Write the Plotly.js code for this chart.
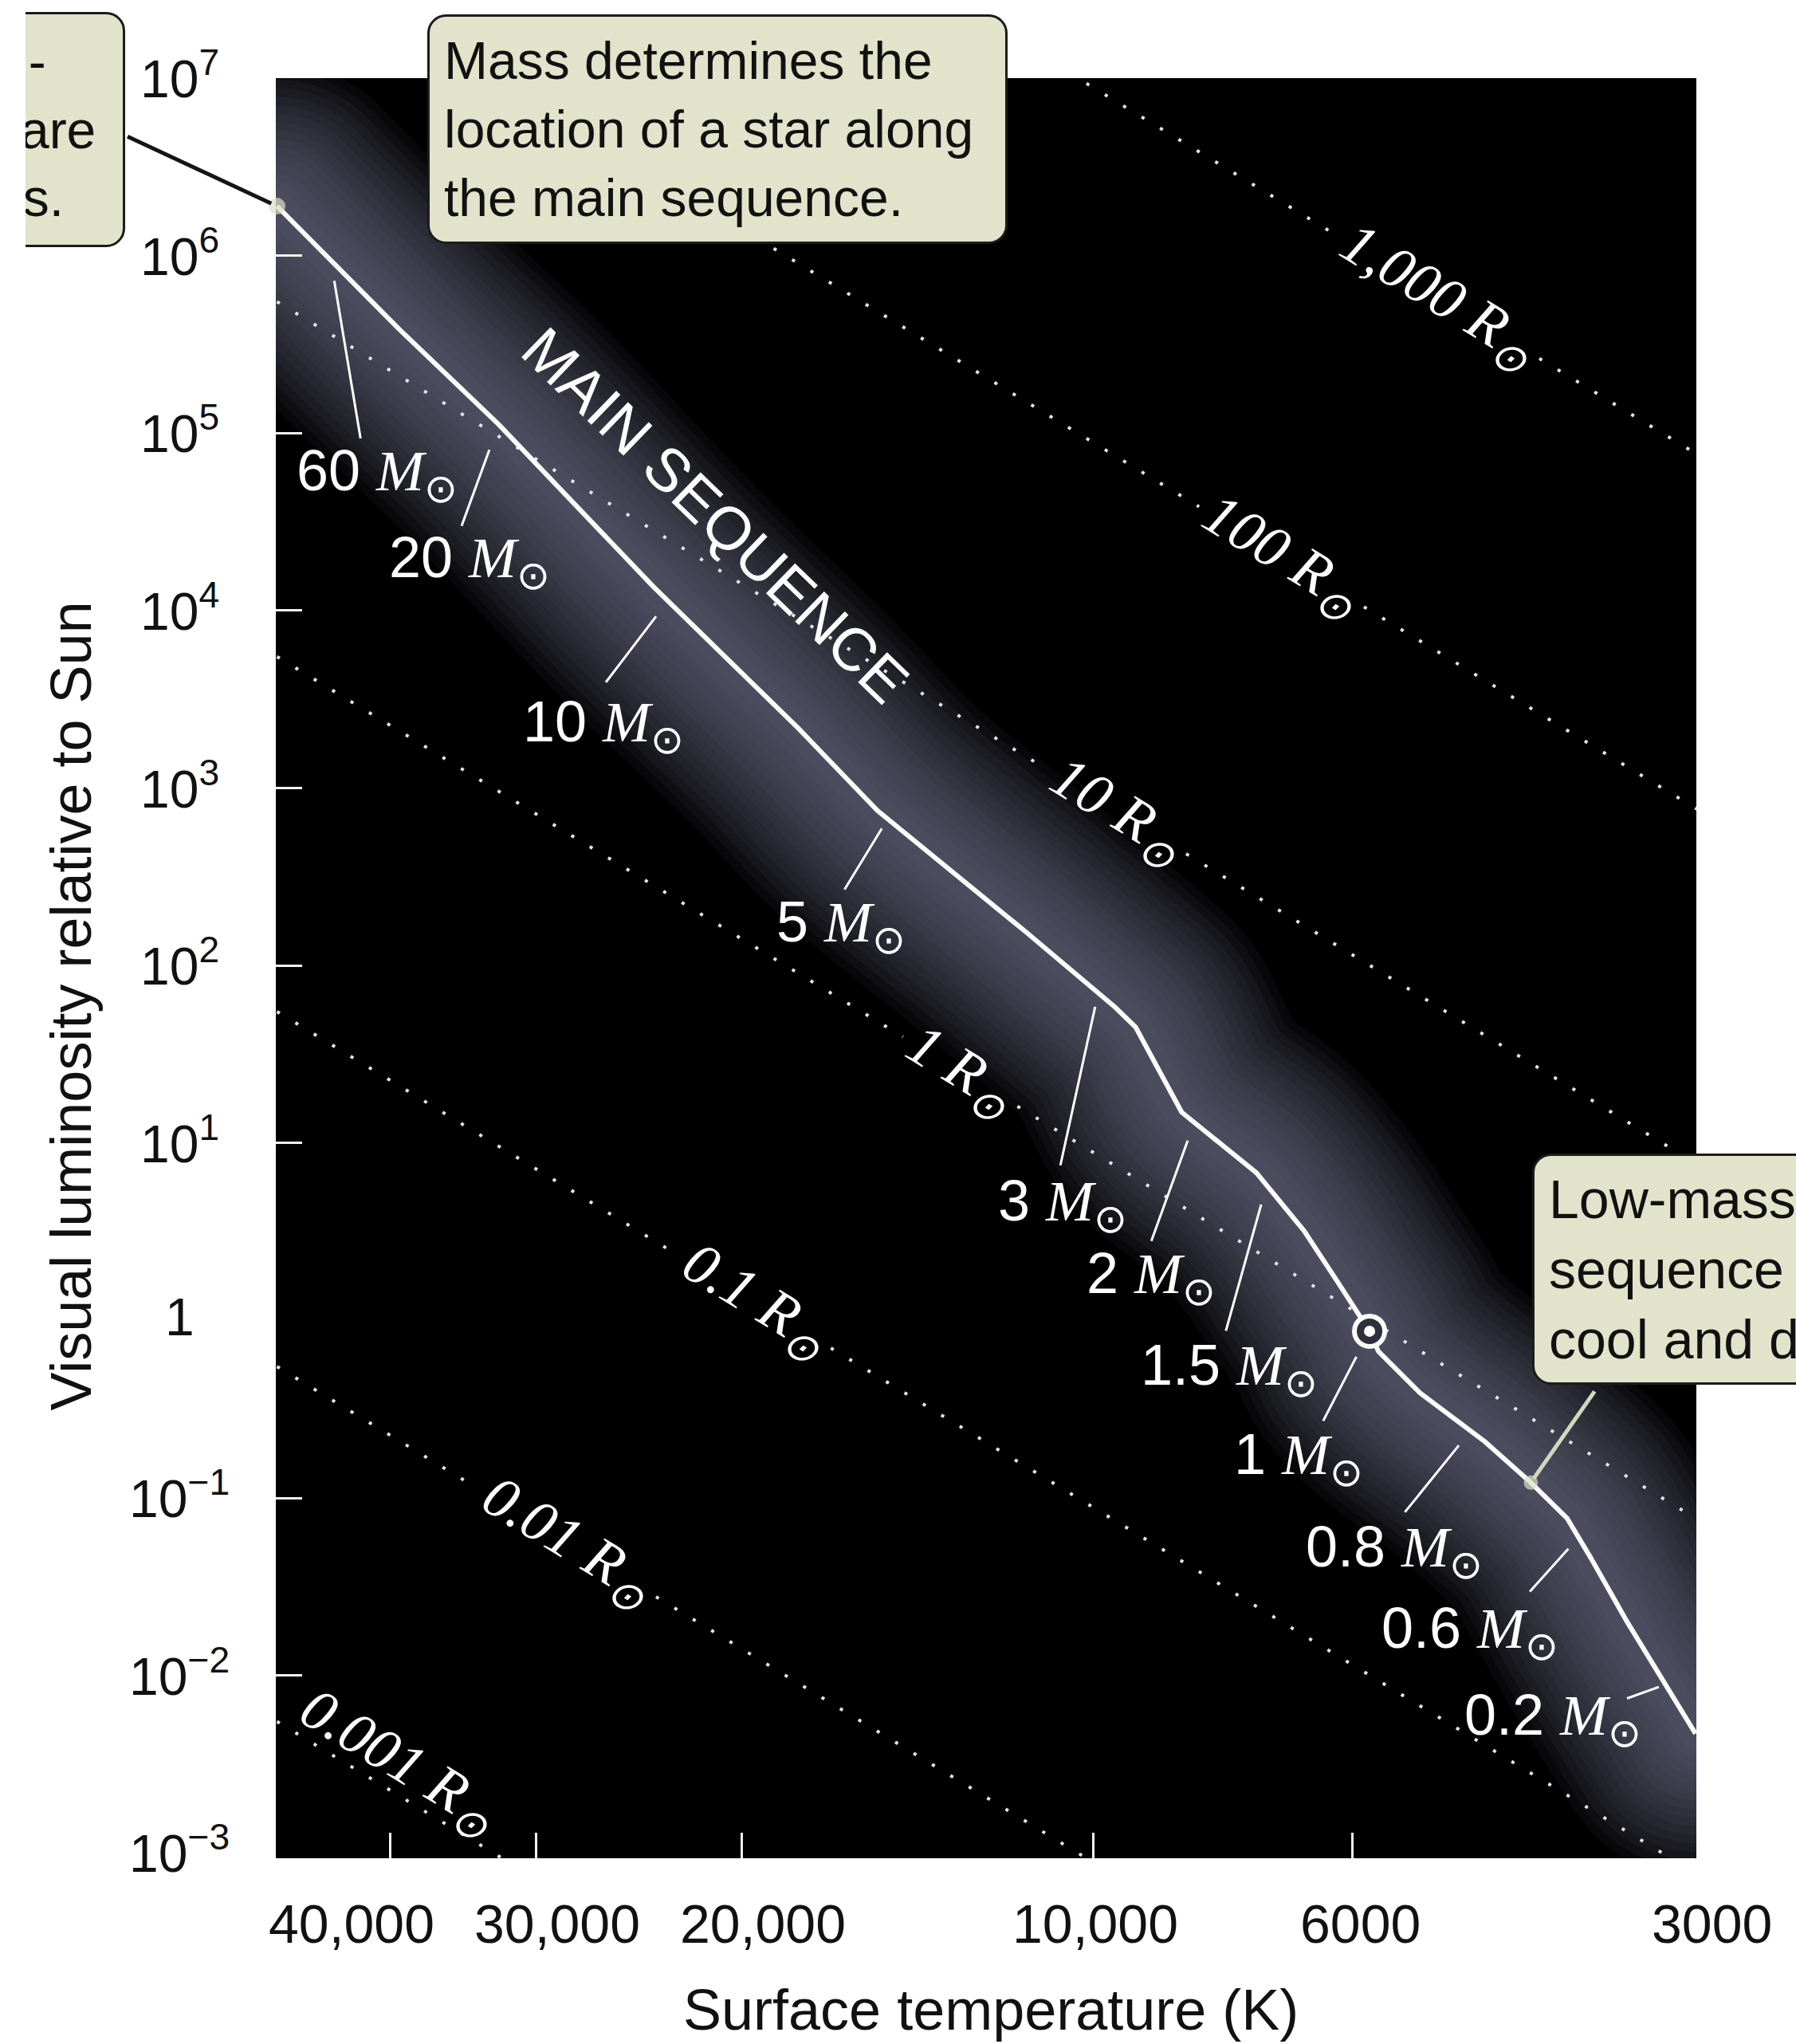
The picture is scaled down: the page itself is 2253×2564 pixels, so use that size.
<!DOCTYPE html>
<html>
<head>
<meta charset="utf-8">
<script src="https://cdn.plot.ly/plotly-3.0.1.min.js"></script>
<style>
  html, body { margin: 0; padding: 0; background: #ffffff; }
  #chart { position: absolute; left: 32px; top: 0; width: 2221px; height: 2564px; }
  #chart .scatterlayer path.js-line { stroke-linejoin: round; }
  #chart .scatterlayer .trace:nth-child(-n+16) path.js-line { stroke-linecap: round; }
  #chart .annotation rect.bg { rx: 22px; ry: 22px; }
</style>
</head>
<body>
<div id="chart"></div>
<script>
// ---------------- DATA ----------------
// Main sequence curve: surface temperature (K) and visual luminosity (L_sun)
const msTemp = [50000, 39300, 32300, 23800, 17900, 15300, 11400, 9600, 9200, 8400, 7250,
                6600, 6170, 5800, 5700, 5250, 4630, 4220, 3930, 3750, 3490, 3050];
const msLum  = [1.9e6, 3.85e5, 1.12e5, 1.36e4, 2180, 745, 153, 59, 45, 14.9, 6.8,
                3.2, 1.63, 0.87, 0.67, 0.39, 0.21, 0.122, 0.077, 0.046, 0.020, 0.0047];

// Stellar masses marked along the main sequence
const massLabel = ['60', '20', '10', '5', '3', '2', '1.5', '1', '0.8', '0.6', '0.2'];
const massTemp  = [45000, 32300, 23100, 15000, 9900, 8200, 7100, 5800, 4750, 3850, 3250];
const massLum   = [9.7e5, 1.12e5, 1.15e4, 670, 71, 12.9, 5.9, 0.87, 0.24, 0.059, 0.0088];

// The Sun
const sunTemp = [5800];
const sunLum  = [0.87];

// Lines of constant radius (dotted): luminosity at 50,000 K and at 3,000 K
const radiusText    = ['0.001', '0.01', '0.1', '1', '10', '100', '1,000'];
const radiusEndTemp = [50000, 3000];
const radiusLumHot  = [0.0055, 0.55, 55, 5500, 5.5e5, 5.5e7, 5.5e9];
const radiusLumCool = [7.2e-8, 7.2e-6, 7.2e-4, 0.072, 7.2, 720, 7.2e4];
const radiusLabelTemp = [39400, 28200, 19500, 13000, 9550, 6900, 5070];

// Axis ticks
const xTickTemp = [40000, 30000, 20000, 10000, 6000, 3000];
const xTickText = ['40,000', '30,000', '20,000', '10,000', '6000', '3000'];
const yTickVals = [1e7, 1e6, 1e5, 1e4, 1e3, 1e2, 1e1, 1, 1e-1, 1e-2, 1e-3];
const yTickText = ['10<sup>7</sup>', '10<sup>6</sup>', '10<sup>5</sup>', '10<sup>4</sup>',
                   '10<sup>3</sup>', '10<sup>2</sup>', '10<sup>1</sup>', '1',
                   '10<sup>\u22121</sup>', '10<sup>\u22122</sup>', '10<sup>\u22123</sup>'];

const calloutTop  = 'Mass determines the<br>location of a star along<br>the main sequence.';
const calloutHigh = 'High-mass main-<br>sequence stars are<br>hot and luminous.';
const calloutLow  = 'Low-mass main-<br>sequence stars are<br>cool and dim.';

// ---------------- LAYOUT / STYLE ----------------
const X_RANGE = [4.700, 3.4836];   // log10(K), hot on the left
const Y_RANGE = [-3.03, 7.0];      // log10(L)
const PLOT_W = 1782, PLOT_H = 2233;
const SANS = 'Liberation Sans, Arial, Helvetica, sans-serif';
const SERIF = 'Liberation Serif, Times New Roman, serif';
const L10 = Math.log10;
const pxPerDecX = PLOT_W / (X_RANGE[0] - X_RANGE[1]);
const pxPerDecY = PLOT_H / (Y_RANGE[1] - Y_RANGE[0]);

const traces = [];

// soft glow along the main sequence (many stacked translucent strokes)
const GLOW_LAYERS = 16;
for (let k = GLOW_LAYERS - 1; k >= 0; k--) {
  const w = 40 + 320 * k / (GLOW_LAYERS - 1);
  traces.push({
    x: msTemp, y: msLum, mode: 'lines', hoverinfo: 'skip',
    line: { color: 'rgba(120,120,154,0.066)', width: w, shape: 'spline', smoothing: 1 }
  });
}

// constant-radius dotted lines, interrupted where their labels sit
const radiusGapPx = [0, 130, 112, 84, 102, 121, 149];   // half-length of the label gap (px)
const radiusLabelInfo = [];
radiusText.forEach((t, i) => {
  const x0 = L10(radiusEndTemp[0]), x1 = L10(radiusEndTemp[1]);
  const y0 = L10(radiusLumHot[i]), y1 = L10(radiusLumCool[i]);
  const lumAt = u => y0 + (u - x0) / (x1 - x0) * (y1 - y0);
  const lx = L10(radiusLabelTemp[i]);
  const angRad = Math.atan2((y0 - y1) * pxPerDecY, (x0 - x1) * pxPerDecX);
  radiusLabelInfo.push({ lx: lx, ly: lumAt(lx), ang: angRad * 180 / Math.PI });
  let xs, ys;
  if (radiusGapPx[i] > 0) {
    const du = radiusGapPx[i] * Math.cos(angRad) / pxPerDecX;
    const ua = lx + du, ub = lx - du;
    xs = [radiusEndTemp[0], Math.pow(10, ua), null, Math.pow(10, ub), radiusEndTemp[1]];
    ys = [radiusLumHot[i], Math.pow(10, lumAt(ua)), null, Math.pow(10, lumAt(ub)), radiusLumCool[i]];
  } else {
    xs = radiusEndTemp;
    ys = [radiusLumHot[i], radiusLumCool[i]];
  }
  traces.push({
    x: xs, y: ys, mode: 'lines', hoverinfo: 'skip', connectgaps: false,
    line: { color: '#e6e6e6', width: 4, dash: '4px,23px' }
  });
});

// main-sequence line
traces.push({
  x: msTemp, y: msLum, mode: 'lines', hoverinfo: 'skip',
  line: { color: '#fbfbfb', width: 6 }
});

// the Sun symbol
traces.push({
  x: sunTemp, y: sunLum, mode: 'markers', hoverinfo: 'skip',
  marker: { symbol: 'circle', size: 38, color: '#2f2f3d', line: { color: '#ffffff', width: 6 } }
});
traces.push({
  x: sunTemp, y: sunLum, mode: 'markers', hoverinfo: 'skip',
  marker: { symbol: 'circle', size: 14, color: '#ffffff', line: { width: 0 } }
});

// callout anchor dots on the main sequence
const lowIdx = 17;
traces.push({
  x: [msTemp[0], msTemp[lowIdx]], y: [msLum[0], msLum[lowIdx]], mode: 'markers',
  hoverinfo: 'skip', cliponaxis: false,
  marker: { size: [21, 18], color: '#dde0c8', line: { width: 0 } }
});

const annotations = [];

// y tick labels (centred, like the reference)
yTickVals.forEach((v, i) => annotations.push({
  xref: 'paper', yref: 'y', x: 0, y: L10(v), xshift: -121, yshift: 4,
  xanchor: 'center', yanchor: 'middle', showarrow: false,
  text: yTickText[i], font: { family: SANS, size: 66, color: '#111' }
}));

// x tick labels
const xLabelNudge = [-48, 26, 27, 3, 10, 10];
xTickTemp.forEach((t, i) => annotations.push({
  xref: 'paper', yref: 'paper',
  x: (X_RANGE[0] - L10(t)) / (X_RANGE[0] - X_RANGE[1]), y: 0,
  xshift: xLabelNudge[i], yshift: -82, xanchor: 'center', yanchor: 'middle', showarrow: false,
  text: xTickText[i], font: { family: SANS, size: 68, color: '#111' }
}));

// axis titles
annotations.push({
  xref: 'paper', yref: 'paper', x: 0, y: 0.5, xshift: -258, yshift: -48,
  xanchor: 'center', yanchor: 'middle', textangle: -90, showarrow: false,
  text: 'Visual luminosity relative to Sun', font: { family: SANS, size: 72, color: '#111' }
});
annotations.push({
  xref: 'paper', yref: 'paper', x: 0.5, y: 0, xshift: 6, yshift: -190,
  xanchor: 'center', yanchor: 'middle', showarrow: false,
  text: 'Surface temperature (K)', font: { family: SANS, size: 72, color: '#111' }
});

// radius line labels
radiusText.forEach((txt, i) => {
  const info = radiusLabelInfo[i];
  annotations.push({
    xref: 'x', yref: 'y', x: info.lx, y: info.ly, yshift: i === 0 ? 40 : 0,
    xanchor: 'center', yanchor: 'middle', textangle: info.ang, showarrow: false,
    text: txt + ' <i>R</i><sub>\u2299</sub>',
    font: { family: SERIF, size: 74, color: '#ffffff', style: 'italic' }
  });
});

// MAIN SEQUENCE label
annotations.push({
  xref: 'paper', yref: 'paper', x: 0, y: 1, xshift: 552, yshift: -548,
  xanchor: 'center', yanchor: 'middle', textangle: 44, showarrow: false,
  text: 'MAIN SEQUENCE', font: { family: SANS, size: 76, color: '#ffffff' }
});

// mass tick marks and labels
const massTickDx = [38, -47, -80, -55, -48, -54, -52, -59, -84, -61, -47];
const massTickDy = [228, 129, 105, 90, 219, 149, 186, 114, 104, 68, 17];
const massGap    = [29, 34, 26, 14, 19, 23, 27, 36, 24, 17, 6];
const massTextDx = [58, -37, -82, -59, -45, -54, -47, -89, -96, -135, -139];
const massTextDy = [272, 172, 158, 134, 267, 193, 233, 160, 151, 117, 42];
massLabel.forEach((m, i) => {
  annotations.push({
    xref: 'x', yref: 'y', x: L10(massTemp[i]), y: L10(massLum[i]),
    ax: massTickDx[i], ay: massTickDy[i], text: '', showarrow: true,
    arrowhead: 0, arrowwidth: 3, arrowcolor: '#ffffff', standoff: massGap[i]
  });
  annotations.push({
    xref: 'x', yref: 'y', x: L10(massTemp[i]), y: L10(massLum[i]),
    xshift: massTextDx[i], yshift: -massTextDy[i], xanchor: 'center', yanchor: 'middle',
    showarrow: false,
    text: m + ' <span style="font-family:\'Liberation Serif\',serif;font-style:italic">M</span><sub>\u2299</sub>',
    font: { family: SANS, size: 72, color: '#ffffff' }
  });
});

// callout boxes
const calloutStyle = {
  xref: 'paper', yref: 'paper', x: 0, y: 1, showarrow: false, align: 'left', valign: 'middle',
  bgcolor: '#e1e4cb', bordercolor: '#1c1c1c', borderwidth: 3, borderpad: 18,
  font: { family: SANS, size: 66, color: '#111111' }
};
annotations.push(Object.assign({}, calloutStyle, {
  text: calloutTop, xshift: 554, yshift: -64, xanchor: 'center', yanchor: 'middle',
  width: 686, height: 246
}));
annotations.push(Object.assign({}, calloutStyle, {
  text: calloutHigh, xshift: -189, yshift: -64.5, xanchor: 'right', yanchor: 'middle',
  width: 577, height: 253
}));
annotations.push(Object.assign({}, calloutStyle, {
  text: calloutLow, xshift: 1576, yshift: -1494, xanchor: 'left', yanchor: 'middle',
  width: 600, height: 248, font: { family: SANS, size: 68, color: '#111111' }
}));

// callout leaders
annotations.push({
  xref: 'x', yref: 'y', x: L10(msTemp[0]), y: L10(msLum[0]), ax: -189, ay: -88,
  text: '', showarrow: true, arrowhead: 0, arrowwidth: 5, arrowcolor: '#151515', standoff: 8
});
annotations.push({
  xref: 'x', yref: 'y', x: L10(msTemp[lowIdx]), y: L10(msLum[lowIdx]), ax: 81, ay: -116,
  text: '', showarrow: true, arrowhead: 0, arrowwidth: 5, arrowcolor: '#d3d7bc', standoff: 6
});

const layout = {
  width: 2221, height: 2564,
  margin: { l: 314, r: 125, t: 98, b: 233, pad: 0 },
  paper_bgcolor: 'rgba(0,0,0,0)', plot_bgcolor: '#000000',
  showlegend: false, hovermode: false,
  font: { family: SANS, color: '#111' },
  xaxis: {
    type: 'log', range: X_RANGE, autorange: false, showgrid: false, zeroline: false,
    showline: false, ticks: 'inside', tickvals: xTickTemp.slice(0, 5), ticklen: 32,
    tickwidth: 3, tickcolor: '#f2f2f2', showticklabels: false, fixedrange: true
  },
  yaxis: {
    type: 'log', range: Y_RANGE, autorange: false, showgrid: false, zeroline: false,
    showline: false, ticks: 'inside', tickvals: [1e6, 1e5, 1e4, 1e3, 1e2, 1e1, 1e-1, 1e-2],
    ticklen: 33, tickwidth: 3, tickcolor: '#f2f2f2', showticklabels: false, fixedrange: true
  },
  annotations: annotations
};

Plotly.newPlot('chart', traces, layout, { staticPlot: true, displayModeBar: false });
</script>
</body>
</html>
